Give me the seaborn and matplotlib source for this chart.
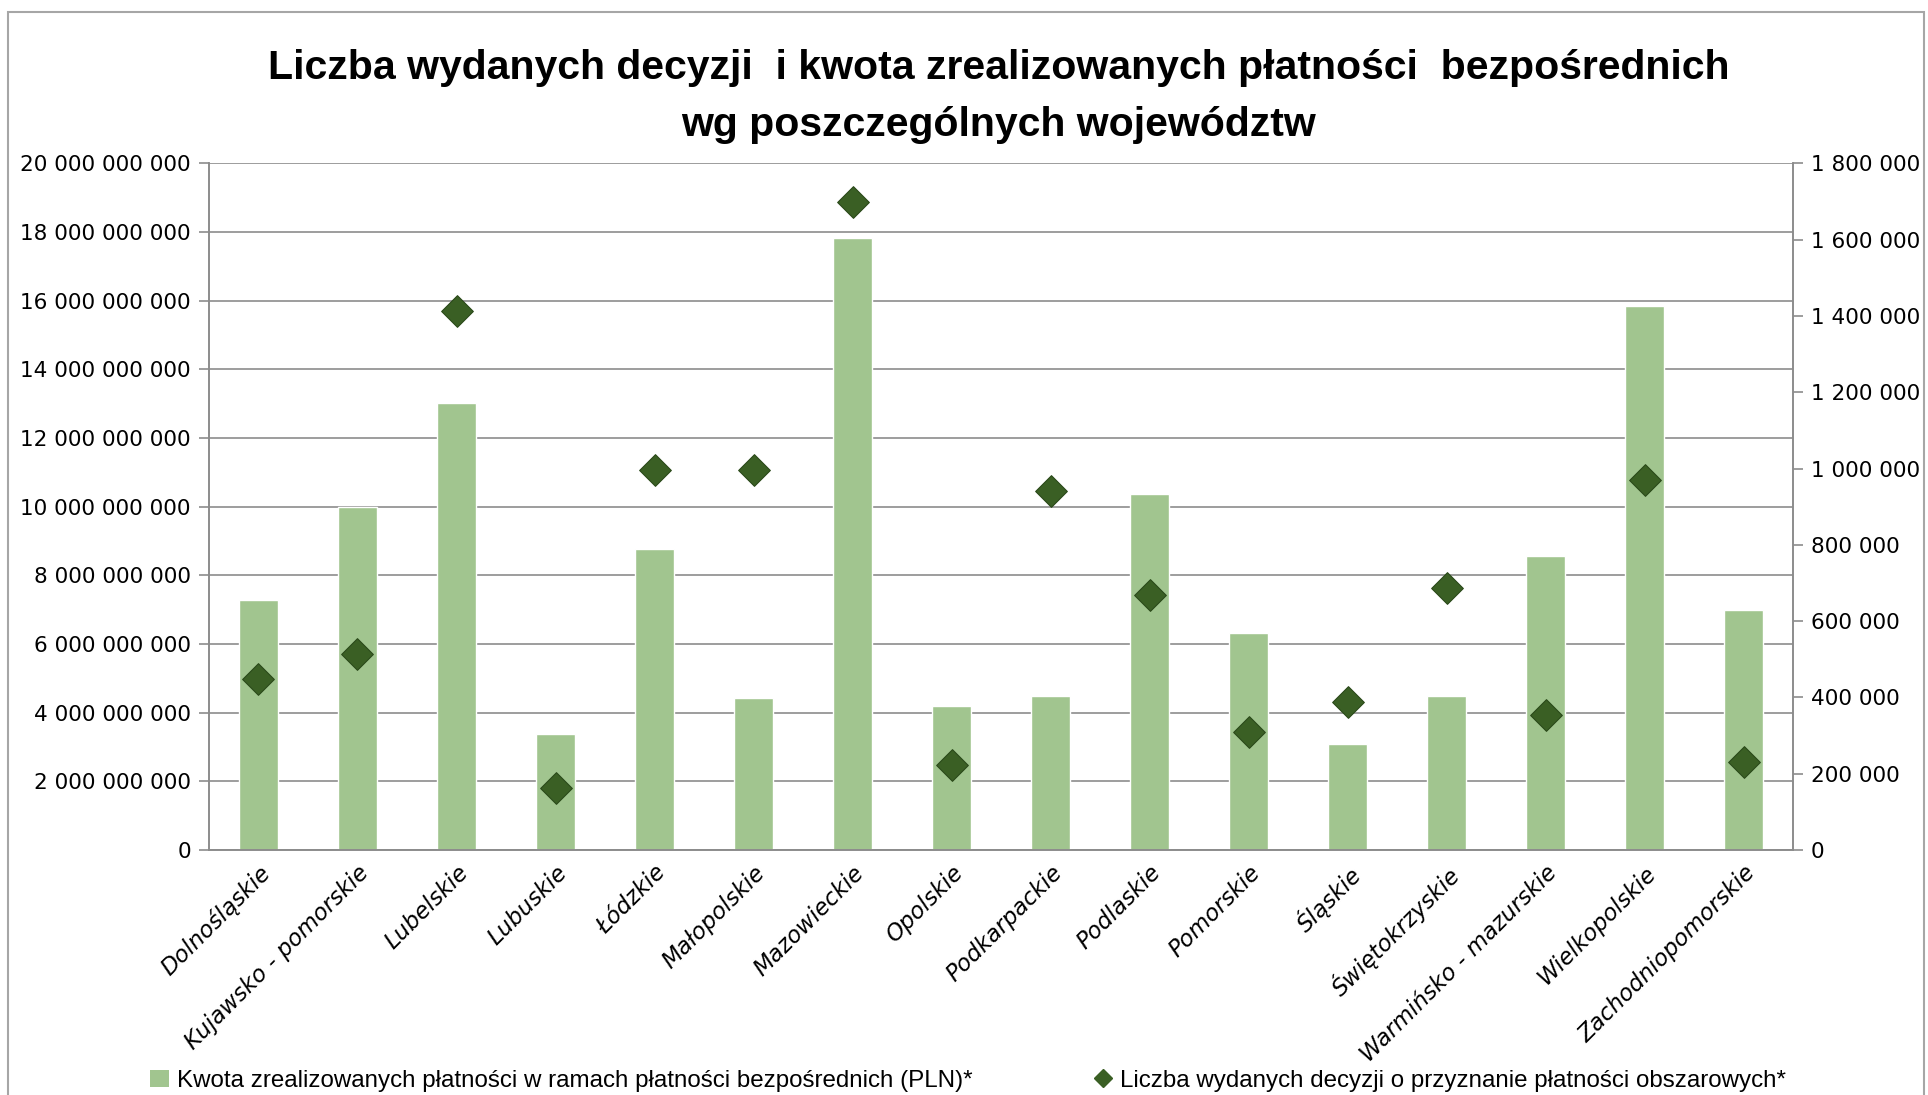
import matplotlib
matplotlib.use("Agg")
import matplotlib.pyplot as plt
import seaborn as sns
import pandas as pd
from matplotlib.ticker import FuncFormatter
from matplotlib.lines import Line2D
from matplotlib.patches import Patch, Rectangle

regions = ["Dolnośląskie", "Kujawsko - pomorskie", "Lubelskie", "Lubuskie", "Łódzkie",
           "Małopolskie", "Mazowieckie", "Opolskie", "Podkarpackie", "Podlaskie",
           "Pomorskie", "Śląskie", "Świętokrzyskie", "Warmińsko - mazurskie",
           "Wielkopolskie", "Zachodniopomorskie"]
payments = [7.28e9, 10.0e9, 13.02e9, 3.37e9, 8.76e9, 4.42e9, 17.82e9, 4.2e9, 4.48e9,
            10.36e9, 6.31e9, 3.09e9, 4.48e9, 8.58e9, 15.84e9, 7.0e9]
decisions = [448000, 513000, 1413000, 162000, 997000, 997000, 1700000, 223000, 942000,
             668000, 310000, 387000, 687000, 355000, 971000, 232000]

title = "Liczba wydanych decyzji  i kwota zrealizowanych płatności  bezpośrednich\nwg poszczególnych województw"
bar_label = "Kwota zrealizowanych płatności w ramach płatności bezpośrednich (PLN)*"
dot_label = "Liczba wydanych decyzji o przyznanie płatności obszarowych*"

df = pd.DataFrame({"region": regions, "payments": payments, "decisions": decisions})

sns.set_theme(style="white")
plt.rcParams['font.family'] = ['DejaVu Sans']
plt.rcParams['text.color'] = 'black'
plt.rcParams['xtick.color'] = 'black'
plt.rcParams['ytick.color'] = 'black'

bar_color = "#A1C58F"
dot_color = "#3A5F24"
grid_color = "#8C8C8C"

fig = plt.figure(figsize=(19.28, 10.95), dpi=100)
ax = fig.add_axes([0.1084, 0.2237, 0.8216, 0.627])

sns.barplot(data=df, x="region", y="payments", color=bar_color, width=0.4,
            saturation=1, ax=ax, zorder=2)
ax.set_ylim(0, 20e9)
ax.set_yticks([i * 2e9 for i in range(11)])
fmt = FuncFormatter(lambda v, p: f"{int(round(v)):,}".replace(",", " "))
ax.yaxis.set_major_formatter(fmt)
ax.grid(axis="y", color=grid_color, linewidth=1.2, zorder=0)
ax.set_axisbelow(True)
ax.set_xlim(-0.5, len(regions) - 0.5)
ax.set_xlabel("")
ax.set_ylabel("")

ax2 = ax.twinx()
sns.scatterplot(data=df, x="region", y="decisions", marker="D", s=260,
                color=dot_color, edgecolor="#2B4A1A", linewidth=0.8, ax=ax2, zorder=3)
ax2.set_ylim(0, 1.8e6)
ax2.set_yticks([i * 2e5 for i in range(10)])
ax2.yaxis.set_major_formatter(fmt)
ax2.set_ylabel("")
ax2.set_xlim(-0.5, len(regions) - 0.5)

for a in (ax, ax2):
    a.spines["top"].set_visible(False)
    for s in ("left", "right", "bottom"):
        a.spines[s].set_color(grid_color)
        a.spines[s].set_linewidth(1.2)
    a.tick_params(axis="y", length=7, width=1.2, color=grid_color, labelsize=15.5,
                  labelcolor="black", pad=6)

ax.tick_params(axis="x", length=0, pad=8)
ax.set_xticks(range(len(regions)))
ax.set_xticklabels(regions, rotation=45, ha="right", rotation_mode="anchor",
                   fontsize=16.5, fontstyle="italic", color="black")
ax2.tick_params(axis="x", length=0)

fig.text(0.518, 0.912, title, ha="center", va="center", fontsize=29.5,
         fontweight="bold", linespacing=1.62, color="black",
         family=["Liberation Sans Narrow", "Liberation Sans", "DejaVu Sans"])

handles = [Patch(facecolor=bar_color, edgecolor="none"),
           Line2D([], [], marker="D", linestyle="none", color=dot_color,
                  markersize=9)]
leg = fig.legend(handles, [bar_label, dot_label], loc="center", ncol=2,
                 bbox_to_anchor=(0.502, 0.013), frameon=False,
                 handlelength=0.8, handletextpad=0.3, columnspacing=5.0,
                 prop={"family": ["Liberation Sans Narrow", "Liberation Sans", "DejaVu Sans"],
                       "size": 17.4})
for t in leg.get_texts():
    t.set_color("black")

fig.add_artist(Rectangle((0.004, -0.01), 0.994, 0.999, transform=fig.transFigure,
                         fill=False, edgecolor="#A6A6A6", linewidth=1.5))

fig.savefig("out.png", dpi=100, facecolor="white")
